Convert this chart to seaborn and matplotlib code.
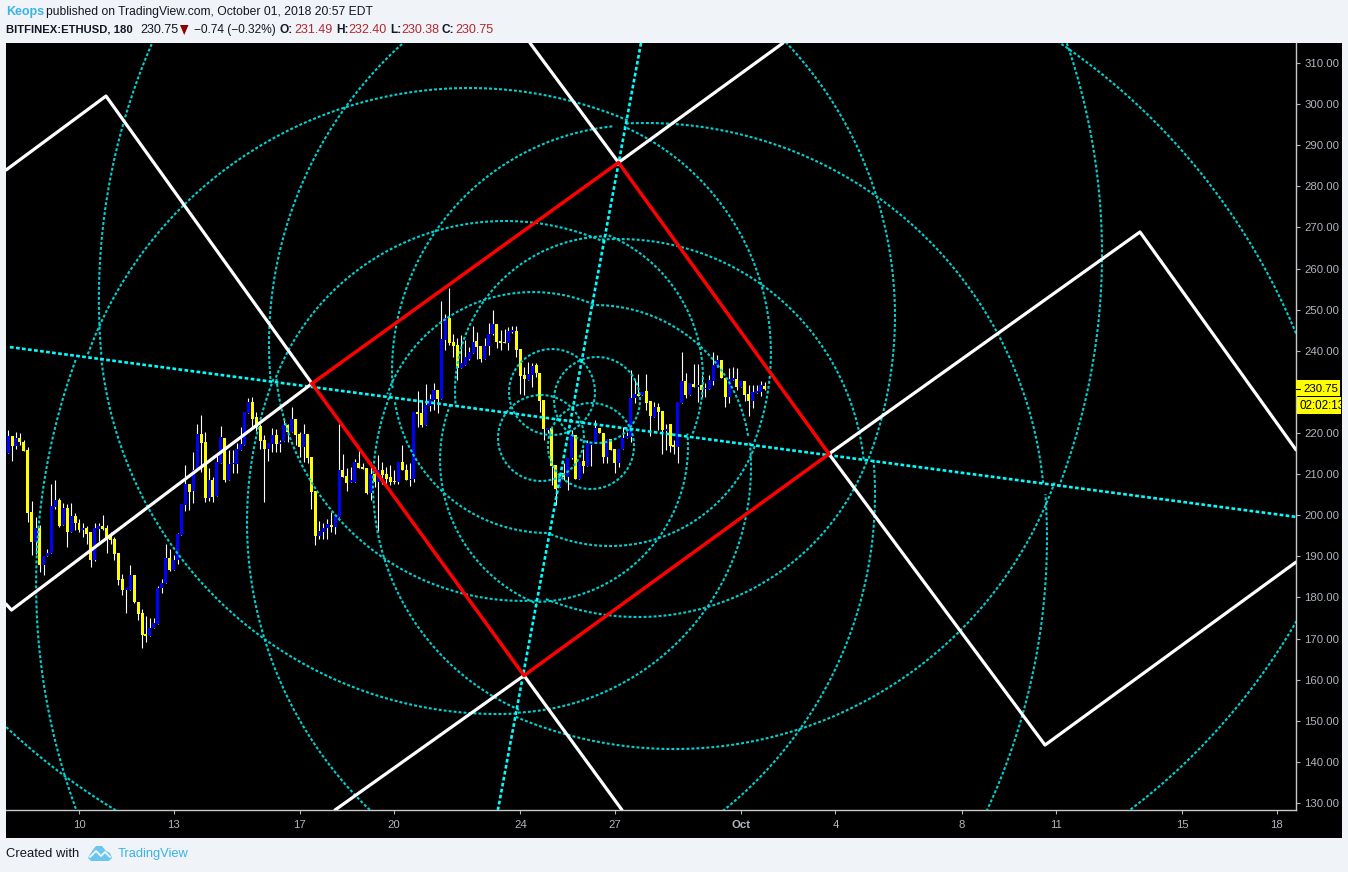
import numpy as np
import matplotlib
matplotlib.use("Agg")
from matplotlib import pyplot as plt
from matplotlib.patches import Rectangle, Polygon
from matplotlib.lines import Line2D
import pandas as pd
import seaborn as sns

# 3 hour candles, first one is Sep 7 18:00 (x axis is day of September)
first_bar_day = 7.75
bar_days = 0.125

opens = [215.2,219.2,216.8,218.9,217.9,215.8,200.7,193.5,196.9,187.9,190.0,190.7,201.9,203.8,197.6,201.7,196.0,199.9,198.2,196.4,
197.0,195.9,189.2,196.7,197.5,196.9,194.6,194.1,190.7,184.4,181.8,181.9,185.4,179.0,176.1,171.1,170.6,172.5,173.5,182.3,
183.4,189.5,186.8,189.2,195.2,202.5,207.6,205.9,211.1,219.7,217.8,204.2,208.5,204.6,212.8,218.9,208.5,212.4,212.4,215.8,
217.0,224.9,227.6,223.9,221.7,218.3,216.2,217.3,219.5,217.3,218.1,221.9,220.3,223.3,219.7,216.5,219.7,214.2,205.9,195.0,
196.0,196.9,197.6,197.2,199.6,211.1,209.5,208.1,208.1,212.7,211.8,211.4,205.3,210.0,208.1,211.1,210.0,209.4,208.3,208.1,
213.0,211.1,208.5,208.9,225.1,224.8,221.9,226.5,228.0,230.4,228.2,242.6,248.0,242.1,241.4,235.7,236.5,237.9,239.4,242.4,
241.2,238.1,241.2,244.0,246.5,242.4,242.2,242.0,244.6,244.8,240.4,234.1,233.0,234.1,236.5,234.7,228.0,220.7,221.2,212.2,
206.8,210.3,209.4,214.0,219.5,208.8,213.2,211.9,217.2,217.7,221.1,219.9,214.2,218.5,216.1,212.8,216.0,218.9,219.1,228.4,
229.4,229.2,230.2,227.8,224.0,226.4,225.3,220.5,222.2,217.1,216.6,227.4,232.6,229.2,232.0,231.2,231.7,230.6,230.6,232.6,
236.0,237.7,233.5,228.8,233.0,233.1,231.2,232.6,229.5,227.8,229.8,230.0,231.49]
closes = [219.2,216.8,218.9,217.9,215.7,200.6,193.5,196.9,187.9,190.2,190.9,202.2,203.8,197.3,201.7,196.0,199.8,198.0,196.4,197.0,
195.4,189.2,197.0,197.5,196.7,193.9,193.9,190.5,184.2,181.9,182.2,185.4,178.9,175.9,170.8,170.6,172.5,173.7,182.4,183.4,
189.7,186.6,189.1,195.4,202.7,207.7,205.7,211.1,219.7,217.5,204.2,208.5,204.5,213.0,219.1,208.5,212.4,212.6,216.1,217.3,
225.2,227.6,223.5,221.5,218.1,216.2,217.5,219.4,217.3,217.9,221.9,220.3,223.3,219.5,216.5,219.7,214.0,205.7,195.0,196.1,
197.0,197.8,197.2,199.8,211.1,209.2,207.9,208.5,213.0,211.4,211.2,205.3,210.0,208.1,211.1,209.8,208.9,208.1,208.1,213.0,
211.0,208.5,208.9,225.2,224.6,221.9,226.8,228.2,230.4,228.2,242.8,248.0,241.8,241.1,235.7,237.1,238.5,239.8,242.2,241.0,
238.1,241.2,244.0,246.5,242.2,241.9,241.9,244.9,245.0,240.2,233.8,233.1,234.3,236.3,234.5,227.8,220.9,221.2,212.0,206.5,
210.3,209.4,214.0,219.5,208.8,213.0,211.9,217.5,217.6,221.1,219.9,214.2,218.5,215.8,212.8,216.1,218.9,219.2,228.6,229.5,
229.1,230.0,227.4,224.2,226.4,225.0,220.7,220.9,216.8,216.6,227.6,232.6,229.2,232.1,231.1,231.7,230.4,230.8,232.9,236.5,
237.7,233.3,228.8,233.1,233.3,231.1,232.7,229.2,227.8,230.0,230.2,231.6,230.75]
highs = [220.7,219.3,220.2,219.9,218.3,216.6,203.4,199.5,197.6,190.2,191.9,207.7,208.5,204.1,202.9,202.7,202.9,200.6,199.0,198.0,
197.3,196.0,198.1,198.1,200.0,197.6,196.0,194.7,190.7,185.8,182.2,187.9,185.4,179.0,177.1,175.4,174.9,175.1,182.9,184.6,
193.1,191.7,190.3,195.6,202.7,212.2,207.7,215.4,222.2,224.3,220.2,211.4,209.3,214.4,221.7,218.9,215.8,215.8,217.6,221.5,
225.2,228.4,228.8,225.0,222.3,219.5,217.5,221.1,220.9,218.3,223.5,222.3,226.4,223.3,220.3,222.3,219.7,214.2,205.9,198.6,
198.0,199.0,200.8,200.0,222.2,215.0,211.4,211.8,213.8,216.2,212.6,211.4,213.0,211.8,214.6,213.0,211.8,212.2,211.0,213.0,
217.1,212.4,212.6,225.2,230.2,228.0,231.9,229.6,232.2,230.4,252.1,248.9,255.2,244.0,243.0,243.8,242.6,241.0,246.0,244.6,
241.2,243.2,246.8,249.9,246.5,245.0,245.4,245.8,246.0,246.0,240.4,236.0,237.2,237.1,237.1,234.7,228.0,221.2,221.2,212.2,
210.3,212.6,214.0,220.7,219.5,213.0,216.2,218.3,217.6,223.1,221.1,219.9,218.5,218.5,216.1,216.1,221.5,220.3,235.3,232.9,
234.3,230.0,234.3,227.8,227.6,227.2,225.3,222.3,222.2,218.3,227.6,239.6,234.5,232.1,236.9,236.9,234.1,232.1,234.1,239.6,
238.9,237.7,233.5,235.7,236.0,235.7,232.7,232.6,231.7,231.7,231.7,232.6,232.40]
lows = [215.2,213.2,216.0,217.0,215.7,198.4,190.3,190.5,186.2,185.4,190.0,190.7,201.6,197.2,197.6,192.3,196.0,196.4,196.0,194.7,
193.1,187.3,188.9,193.8,196.4,190.9,193.1,189.1,183.0,180.6,176.3,181.9,178.7,174.6,167.6,169.2,170.6,172.5,173.5,181.0,
183.4,186.5,186.8,188.1,195.2,201.1,201.2,203.0,211.1,210.6,203.3,203.5,203.3,204.6,212.8,208.1,208.5,210.2,210.3,215.8,
217.0,224.9,221.5,220.5,216.2,203.3,213.2,215.4,215.4,215.4,218.1,217.9,220.3,217.0,214.2,213.0,212.8,201.6,192.7,194.2,
194.3,194.3,196.0,195.4,199.6,209.2,205.9,208.1,208.1,211.4,211.2,205.1,203.7,206.9,196.2,207.7,207.7,207.3,207.6,207.7,
211.0,208.5,207.1,208.1,221.5,221.5,221.9,225.4,225.6,224.8,228.2,240.3,241.4,238.5,233.0,235.7,236.5,237.7,239.4,238.1,
237.3,238.1,238.9,243.8,240.6,240.2,241.8,240.2,244.4,238.4,229.4,229.2,233.0,231.2,233.7,225.2,218.4,219.9,207.3,202.5,
206.8,208.5,206.1,213.8,208.8,208.8,210.2,211.9,212.0,217.5,219.9,212.8,212.8,215.8,210.3,211.8,216.0,218.9,217.9,227.2,
229.1,229.2,225.6,219.3,224.0,220.7,214.9,215.8,215.4,215.0,212.8,227.4,228.4,229.2,231.1,227.6,228.8,228.8,230.6,231.8,
236.0,233.3,226.4,227.2,233.0,230.4,231.2,227.8,224.1,226.0,229.8,229.0,230.38]

# drawn lines, chart coordinates (day, price)
red_days = [17.392,27.116,33.794,24.118,17.392]
red_prices = [232.04,285.8,214.9,161.0,232.04]
white_days = [[7.684,10.857,17.392],[7.684,7.858,17.392],[24.308,27.116,32.335],[18.122,24.118,27.227],[33.794,40.647,48.61],[33.794,43.66,48.61]]
white_prices = [[283.97,301.97,232.04],[178.4,176.94,232.04],[314.87,285.8,314.87],[128.3,161.0,128.3],[214.9,144.1,188.6],[214.9,268.9,215.9]]
diag_days = [[7.81,48.61],[27.83,23.29]]
diag_prices = [[240.9,199.6],[314.87,128.3]]

# fib circles, centre and radius (radius in dollars)
circle_days = [26.434,24.657,25.006,26.244, 26.846,24.403,26.371,24.879, 27.735,23.515,27.132,24.086,
               28.877,22.373,27.989,23.261, 31.003,20.311,29.416,21.834]
circle_prices = [228.03,218.78,229.97,216.84, 230.21,216.59,213.43,233.38, 235.08,211.73,207.35,239.46,
                 241.65,205.16,198.35,248.46, 252.59,194.21,183.27,263.54]
circle_radius = [10.46,10.46,10.46,10.46, 37.7,37.7,37.7,37.7, 59.84,59.84,59.84,60.3,
                 98.52,98.76,97.06,96.81, 156.2,156.4,159.3,158.11]
# which part of each circle is shown, degrees as seen on screen
circle_arcs = [[(0,360)],[(0,360)],[(0,360)],[(0,360)],
               [(93,185.5),(247.5,340)],[(67,160),(272,365)],[(9,91),(159,248)],[(189,271),(339,428)],
               [(96,184),(248,339)],[(66,159),(273,366)],[(6,94),(158,246)],[(186,274),(339,426)],
               [(92,185),(247,340)],[(67,160),(272,365)],[(5.6,93),(159,246)],[(186,273),(339,426)],
               [(92,185),(244,340)],[(66,160),(272,364)],[(5,93),(160,250)],[(186,273),(339,426)]]
days_per_dollar = 4.111 / 31.52

price_ticks = list(range(130, 320, 10))
price_labels = ['' if p == 230 else f'{p:.2f}' for p in price_ticks]
day_ticks = [10,13,17,20,24,27,31,34,38,41,45,48]
day_labels = ['10','13','17','20','24','27','Oct','4','8','11','15','18']

W, H = 1348, 872
sns.set_theme(style='dark', rc={'axes.facecolor':'black', 'figure.facecolor':'#f0f3f8', 'font.family':['Liberation Sans','DejaVu Sans']})

fig = plt.figure(figsize=(W/100, H/100), dpi=100)
fig.patches.append(Rectangle((6/W, 1-838/H), 1336/W, 795/H, transform=fig.transFigure, fc='black', ec='none', zorder=-5))
ax = fig.add_axes([6/W, 1-810/H, 1290/W, 767/H])
ax.set_xlim(7.684, 48.61)
ax.set_ylim(128.3, 314.87)

df = pd.DataFrame({'open':opens,'close':closes,'high':highs,'low':lows})
df['day'] = first_bar_day + bar_days*np.arange(len(df))
up = df['close'] >= df['open']
ax.vlines(df['day'], df['low'], df['high'], color='white', lw=0.8, zorder=1)
ax.bar(df['day'], (df['close']-df['open']).abs().clip(lower=0.3), bottom=df[['open','close']].min(axis=1),
       width=0.095, color=np.where(up,'#0000ff','#ffff00'), lw=0, zorder=2)

for cx, cy, r, arcs in zip(circle_days, circle_prices, circle_radius, circle_arcs):
    for a1, a2 in arcs:
        t = np.radians(np.arange(a1, a2 + 0.25, 0.25))
        ax.plot(cx + r*days_per_dollar*np.cos(t), cy + r*np.sin(t), color='#00d2d2', lw=1.5,
                linestyle=(0,(1.4,1.0)), dash_capstyle='butt', zorder=3)
for xs, ys in zip(diag_days, diag_prices):
    ax.plot(xs, ys, color='#00ffff', lw=1.9, linestyle=(0,(1.4,0.9)), dash_capstyle='butt', zorder=3)
for xs, ys in zip(white_days, white_prices):
    sns.lineplot(x=xs, y=ys, sort=False, estimator=None, color='white', lw=2.3, ax=ax, zorder=4)
sns.lineplot(x=red_days, y=red_prices, sort=False, estimator=None, color='#ff0000', lw=2.5, ax=ax, zorder=5)

ax.yaxis.tick_right()
ax.set_yticks(price_ticks)
ax.set_yticklabels(price_labels)
ax.set_xticks(day_ticks)
ax.set_xticklabels(day_labels)
ax.tick_params(axis='both', which='both', colors='#b2b5be', labelsize=8.2, length=3, width=0.8, pad=3, right=True, bottom=True, left=False)
ax.tick_params(axis='x', pad=4)
ax.get_xticklabels()[6].set_fontweight('bold')
ax.grid(False)
for s in ['top','left']:
    ax.spines[s].set_visible(False)
for s in ['right','bottom']:
    ax.spines[s].set_color('#c8c8c8')
    ax.spines[s].set_linewidth(1)

# last price and countdown tags
fig.patches.append(Rectangle((1296/W, 1-396.5/H), 43.5/W, 16.5/H, transform=fig.transFigure, fc='#ffff00', ec='none', zorder=6))
clock_box = Rectangle((1297/W, 1-414.5/H), 44/W, 17/H, transform=fig.transFigure, fc='#ffff00', ec='none', zorder=6)
fig.patches.append(clock_box)
fig.add_artist(Line2D([1296/W, 1300/W], [1-389/H, 1-389/H], color='black', lw=0.8, zorder=7))
fig.text(1303/W, 1-388.5/H, '230.75', fontsize=8.2, color='black', va='center', zorder=7)
clock = fig.text(1299.5/W, 1-406/H, '02:02:13', fontsize=8.4, color='black', va='center', zorder=7)
clock.set_clip_path(clock_box)
clock.set_clip_on(True)

# header
def put(x, y, s, color='#131722', weight='normal', size=9):
    fig.text(x/W, 1-y/H, s, color=color, fontweight=weight, fontsize=size, va='center')
put(6, 11.5, 'Keops', '#3bb3e4', 'bold')
put(46, 11.5, 'published on TradingView.com, October 01, 2018 20:57 EDT', size=8.75)
put(6, 30, 'BITFINEX:ETHUSD, 180', weight='bold', size=8.1)
put(140, 30, '230.75')
fig.patches.append(Polygon([(180/W,1-25/H),(188.5/W,1-25/H),(184.2/W,1-35/H)], transform=fig.transFigure, fc='#8b0000', ec='none'))
put(194, 30, '−0.74 (−0.32%)', size=8.6)
red = '#b2282d'
for x, s in zip([280,336,390,442], ['O:','H:','L:','C:']):
    put(x, 30, s, weight='bold', size=8.6)
for x, s in zip([294,348,401,455], ['231.49','232.40','230.38','230.75']):
    put(x, 30, s, red)

# footer
put(6, 854, 'Created with', size=9.4)
put(118, 854, 'TradingView', '#3bb3e4', size=9.3)
logo = [(88,858),(92,851),(96,846),(102,846),(106,851),(110,853),(112,858),(109,861),(91,861)]
fig.patches.append(Polygon([(x/W, 1-y/H) for x, y in logo], transform=fig.transFigure, fc='#6cc5ec', ec='none'))
fig.add_artist(Line2D([x/W for x in (90,96,101,105,110)], [1-y/H for y in (857,851,856,852,857)], color='white', lw=1.2))

fig.savefig('out.png', dpi=100, facecolor=fig.get_facecolor())
